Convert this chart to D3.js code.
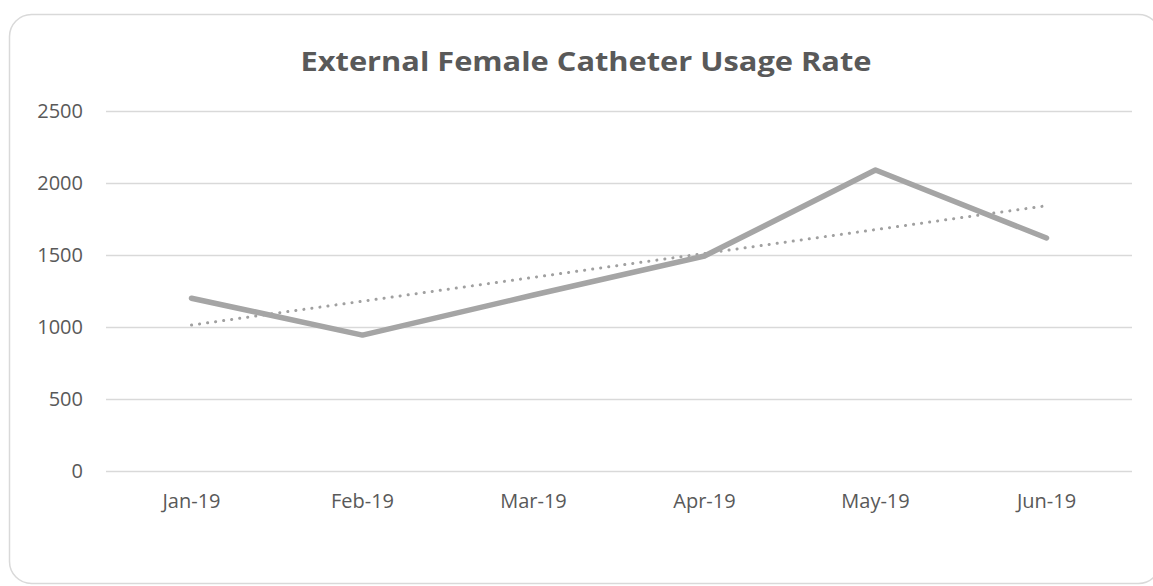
<!DOCTYPE html>
<html>
<head>
<meta charset="utf-8">
<script src="https://cdn.jsdelivr.net/npm/d3@7"></script>
<style>
  body { margin: 0; background: #fff; }
  text { font-family: "Open Sans", "Liberation Sans", sans-serif; fill: #595959; }
</style>
</head>
<body>
<div id="chart"></div>
<script>
// chart data
const months = ['Jan-19', 'Feb-19', 'Mar-19', 'Apr-19', 'May-19', 'Jun-19'];
const usage = [1200, 944, 1222, 1493, 2090, 1618];
const yTicks = [0, 500, 1000, 1500, 2000, 2500];
const title = 'External Female Catheter Usage Rate';

const width = 1153, height = 586;
const margin = { top: 111, right: 21, bottom: 115, left: 106 };

const svg = d3.select('#chart')
  .append('svg')
  .attr('width', width)
  .attr('height', height);

// outer rounded border
svg.append('rect')
  .attr('x', 9.5).attr('y', 14.5)
  .attr('width', 1151).attr('height', 569)
  .attr('rx', 22)
  .attr('fill', '#fff')
  .attr('stroke', '#d9d9d9')
  .attr('stroke-width', 1.5);

svg.append('text')
  .attr('x', 586).attr('y', 71)
  .attr('text-anchor', 'middle')
  .attr('textLength', 571)
  .attr('lengthAdjust', 'spacingAndGlyphs')
  .style('font-size', '27px')
  .style('font-weight', 700)
  .text(title);

const x = d3.scaleBand()
  .domain(months)
  .range([margin.left, width - margin.right]);

const y = d3.scaleLinear()
  .domain([0, 2500])
  .range([height - margin.bottom, margin.top]);

// gridlines + y labels
const yAxis = svg.append('g')
  .attr('transform', `translate(${margin.left},0)`)
  .call(d3.axisLeft(y).tickValues(yTicks).tickFormat(d3.format('d'))
    .tickSize(-(width - margin.left - margin.right)).tickPadding(23));
yAxis.select('.domain').remove();
yAxis.selectAll('line').attr('stroke', '#d9d9d9').attr('stroke-width', 1.5);
yAxis.selectAll('text').style('font-size', '20px').attr('fill', '#595959');

// x labels
const xAxis = svg.append('g')
  .attr('transform', `translate(0,${height - margin.bottom})`)
  .call(d3.axisBottom(x).tickSize(0).tickPadding(23));
xAxis.select('.domain').remove();
xAxis.selectAll('text').style('font-size', '20px').attr('fill', '#595959');

const cx = d => x(d) + x.bandwidth() / 2;

// linear trendline (least squares over the series)
const n = usage.length;
const mx = d3.mean(usage, (d, i) => i);
const my = d3.mean(usage);
const slope = d3.sum(usage, (d, i) => (i - mx) * (d - my)) / d3.sum(usage, (d, i) => (i - mx) ** 2);
const trend = [0, n - 1].map(i => ({ m: months[i], v: my + slope * (i - mx) }));

svg.append('path')
  .datum(trend)
  .attr('fill', 'none')
  .attr('stroke', '#a0a0a0')
  .attr('stroke-width', 3)
  .attr('stroke-linecap', 'round')
  .attr('stroke-dasharray', '0.1,8')
  .attr('d', d3.line().x(d => cx(d.m)).y(d => y(d.v)));

svg.append('path')
  .datum(usage)
  .attr('fill', 'none')
  .attr('stroke', '#a5a5a5')
  .attr('stroke-width', 5.5)
  .attr('stroke-linecap', 'round')
  .attr('stroke-linejoin', 'round')
  .attr('d', d3.line().x((d, i) => cx(months[i])).y(d => y(d)));
</script>
</body>
</html>
